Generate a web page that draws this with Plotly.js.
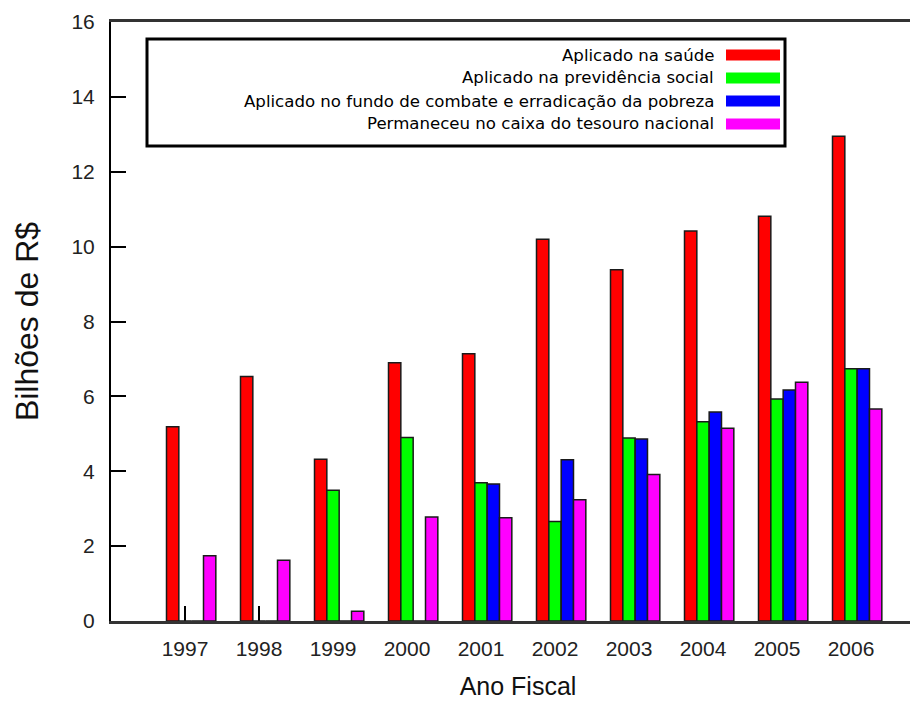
<!DOCTYPE html>
<html>
<head>
<meta charset="utf-8">
<script src="https://cdn.plot.ly/plotly-3.0.1.min.js"></script>
<style>
  html, body { margin: 0; padding: 0; overflow: hidden; background: #fff; }
  #chart { width: 930px; height: 702px; }
</style>
</head>
<body>
<div id="chart"></div>
<script>
// Fiscal years and amounts (billions of R$) per destination
const anos = [1997, 1998, 1999, 2000, 2001, 2002, 2003, 2004, 2005, 2006];
const saude = [5.19, 6.53, 4.32, 6.90, 7.14, 10.20, 9.38, 10.42, 10.81, 12.95];
const previdencia = [0, 0, 3.49, 4.90, 3.69, 2.66, 4.89, 5.32, 5.93, 6.74];
const fundoPobreza = [0, 0, 0, 0, 3.66, 4.31, 4.86, 5.58, 6.17, 6.74];
const tesouro = [1.74, 1.62, 0.26, 2.78, 2.76, 3.24, 3.91, 5.15, 6.38, 5.66];

const nomes = [
  'Aplicado na saúde',
  'Aplicado na previdência social',
  'Aplicado no fundo de combate e erradicação da pobreza',
  'Permaneceu no caixa do tesouro nacional'
];
const cores = ['#ff0000', '#00ff00', '#0000ff', '#ff00ff'];
const series = [saude, previdencia, fundoPobreza, tesouro];

// Plot geometry (pixels)
const W = 930, H = 702;
const M = { l: 111, r: 5, t: 22, b: 81 };
const plotW = W - M.l - M.r, plotH = H - M.t - M.b;
const px = x => (x - M.l) / plotW;
const py = y => (H - M.b - y) / plotH;

// Each year holds four slots; the first series sits one slot left of the tick
const slot = 1 / 6;
const traces = series.map((vals, k) => ({
  type: 'bar',
  x: anos,
  y: vals,
  name: nomes[k],
  width: slot,
  offset: (k - 1.5) * slot,
  marker: { color: cores[k], line: { color: '#1a1a1a', width: 1.5 } },
  hoverinfo: 'x+y+name'
}));

// Boxed key: right-aligned labels with a colour sample on the right
const shapes = [{
  type: 'rect', xref: 'paper', yref: 'paper',
  x0: px(147), x1: px(785), y0: py(146), y1: py(39),
  line: { color: '#000', width: 3 }, fillcolor: 'rgba(0,0,0,0)'
}];
const annotations = [];
nomes.forEach((nome, k) => {
  const yc = 55 + k * 23;
  shapes.push({
    type: 'rect', xref: 'paper', yref: 'paper',
    x0: px(726), x1: px(780), y0: py(yc + 5.5), y1: py(yc - 5.5),
    line: { width: 0 }, fillcolor: cores[k]
  });
  annotations.push({
    xref: 'paper', yref: 'paper', x: px(716), y: py(yc),
    xanchor: 'right', yanchor: 'middle', showarrow: false,
    text: nome, font: { family: 'DejaVu Sans, sans-serif', size: 16.6, color: '#000' }
  });
});

const layout = {
  width: W, height: H,
  margin: M,
  paper_bgcolor: '#fff', plot_bgcolor: '#fff',
  showlegend: false,
  barmode: 'group',
  font: { family: 'Liberation Sans, Arial, sans-serif', color: '#222' },
  xaxis: {
    range: [1996, 2007],
    tickvals: anos, ticktext: anos.map(String),
    ticks: 'inside', ticklen: 15, tickwidth: 2, tickcolor: '#000',
    showline: true, linecolor: '#333', linewidth: 3, mirror: true,
    layer: 'below traces',
    showgrid: false, zeroline: false,
    tickfont: { size: 21, color: '#222' },
    ticklabelstandoff: 7,
    title: { text: 'Ano Fiscal', font: { size: 25, color: '#111' }, standoff: 19 }
  },
  yaxis: {
    range: [0, 16], dtick: 2,
    ticks: 'inside', ticklen: 15, tickwidth: 2, tickcolor: '#000',
    showline: true, linecolor: '#000', linewidth: 2, mirror: 'ticks',
    showgrid: false, zeroline: false,
    tickfont: { size: 21, color: '#222' },
    ticklabelstandoff: 10,
    title: { text: 'Bilhões de R$', font: { size: 32, color: '#111' }, standoff: 23 }
  },
  shapes: shapes,
  annotations: annotations
};

Plotly.newPlot('chart', traces, layout, { displayModeBar: false, staticPlot: true });
</script>
</body>
</html>
